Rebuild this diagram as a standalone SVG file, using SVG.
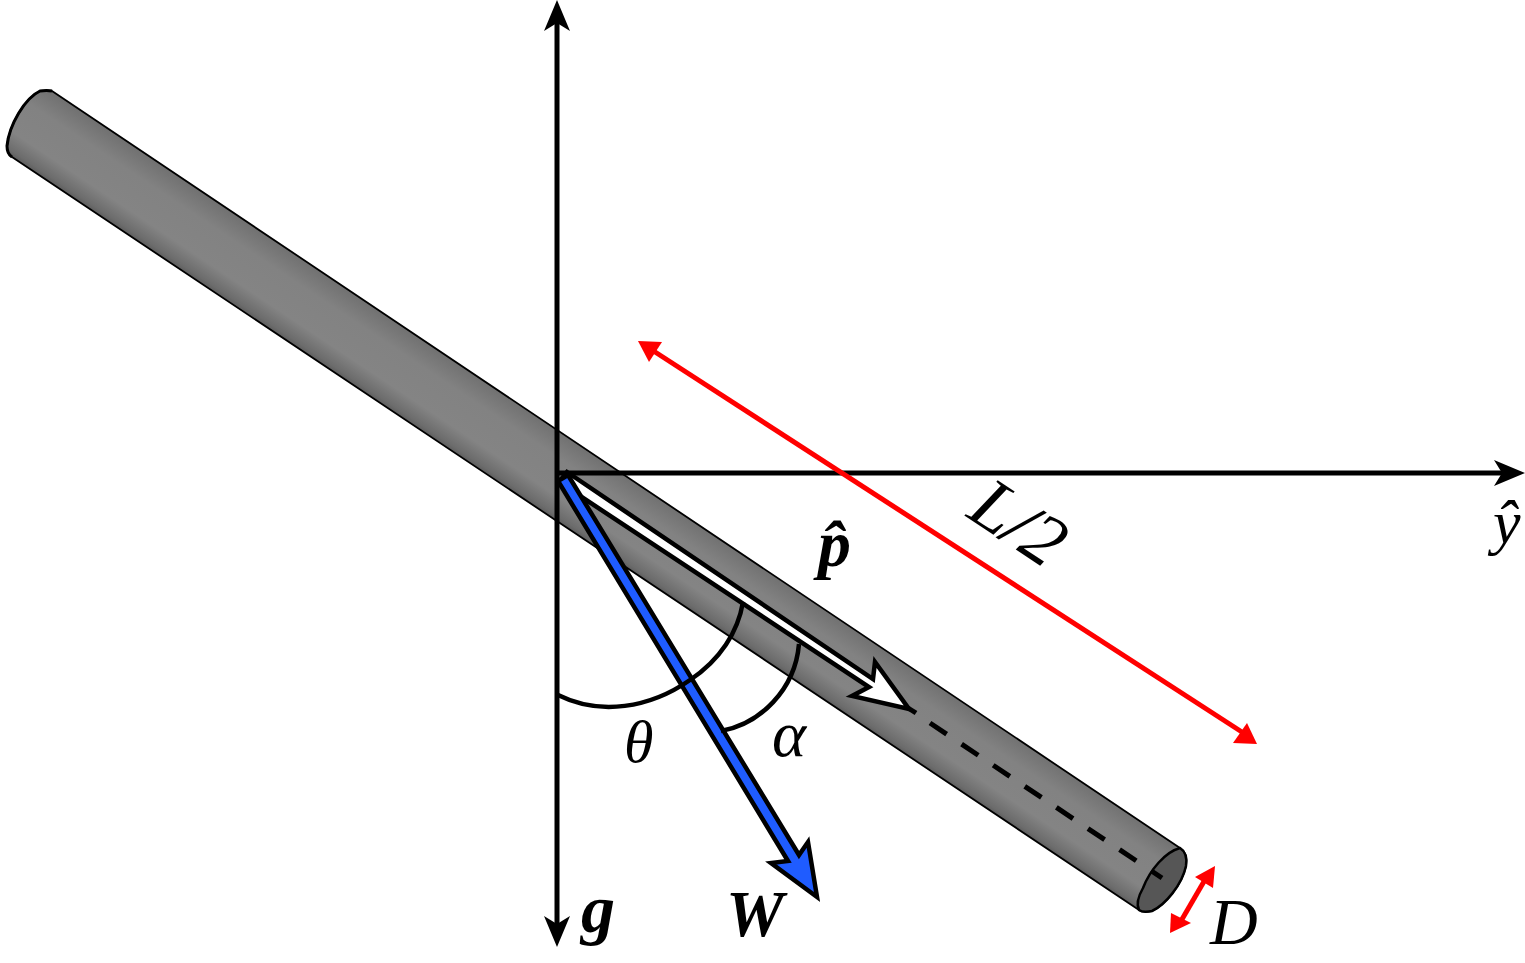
<svg xmlns="http://www.w3.org/2000/svg" width="1525" height="963" viewBox="0 0 1525 963">
<style>
.ax{fill:none;stroke:#000;stroke-width:5}
.arc{fill:none;stroke:#000;stroke-width:4.5}
.t{font-family:"Liberation Serif",serif;font-style:italic;fill:#000}
.b{font-weight:bold}
.red{fill:none;stroke:#f00;stroke-width:5}
.rh{fill:#f00}
</style>
<defs>
<linearGradient id="cyl" gradientUnits="userSpaceOnUse" x1="52" y1="91" x2="8.8" y2="155.6">
<stop offset="0" stop-color="#707070"/><stop offset=".3" stop-color="#828282"/><stop offset=".72" stop-color="#848484"/><stop offset=".93" stop-color="#6c6c6c"/><stop offset="1" stop-color="#5a5a5a"/>
</linearGradient>
</defs>
<g id="rod">
<path d="M52,91 L1180,848 Q1188,853 1186,866 C1182,885 1165,905 1152,911 Q1143,913 1139,910 L12,157 Q7,154 7,146 C9,125 25,98 40,91 Q47,90 52,91 Z" fill="url(#cyl)" stroke="#000" stroke-width="1.8" stroke-linejoin="round"/>
<path d="M52,91 Q47,90 40,91 C25,98 9,125 7,146 Q7,154 12,157" fill="none" stroke="#000" stroke-width="3"/>
<path d="M1180,848 Q1188,853 1186,866 C1182,885 1165,905 1152,911 Q1143,913 1139,910 Q1135,902 1143,888 C1150,870 1165,852 1180,848 Z" fill="#565656" stroke="#000" stroke-width="2.5"/>
</g>
<g id="connectors">
<path class="ax" d="M557,20V925"/>
<path d="M557,0L570,31L557,23L544,31Z"/>
<path d="M557,947L544,916L557,924L570,916Z"/>
<path class="ax" d="M557,473H1505"/>
<path d="M1525,473L1494,460L1502,473L1494,486Z"/>
<path d="M930,723L1162,878" fill="none" stroke="#000" stroke-width="5" stroke-dasharray="20 18"/>
<path d="M567,472L873,679L875,662L909,709L852,696L869,687L559,482Z" fill="#fff" stroke="#000" stroke-width="4.5" stroke-linejoin="miter"/>
<path d="M908,708L916,713" fill="none" stroke="#000" stroke-width="5"/>
<path d="M568,475L799,855L808,842L817,897L771,863L788,861L558,481Z" fill="#1f5cff" stroke="#000" stroke-width="4.5" stroke-linejoin="miter"/>
<path d="M558,695C600,716 650,708 690,680C720,660 738,632 743,602" class="arc"/>
<path d="M721,731C760,724 795,690 799,644" class="arc"/>
<path class="red" d="M652,350L1245,734"/>
<path class="rh" d="M638,341L662,342L649,362Z"/>
<path class="rh" d="M1257,744L1247,723L1233,743Z"/>
<path class="red" d="M1206,878L1181,921"/>
<path class="rh" d="M1215,866L1195,877L1213,888Z"/>
<path class="rh" d="M1170,933L1171,913L1191,923Z"/>
</g>
<g id="labels">
<text class="t b" x="581" y="932" font-size="68">g</text>
<text class="t b" x="726" y="936" font-size="65">W</text>
<text class="t" x="1210" y="944" font-size="66">D</text>
<text class="t" x="624" y="762" font-size="60">θ</text>
<text class="t" x="772" y="756" font-size="65">α</text>
<text class="t b" x="818" y="566" font-size="66">p̂</text>
<text class="t" x="1493" y="543" font-size="62">ŷ</text>
<text class="t" transform="translate(965,516) rotate(33.5)" font-size="73">L/2</text>
</g>
</svg>
